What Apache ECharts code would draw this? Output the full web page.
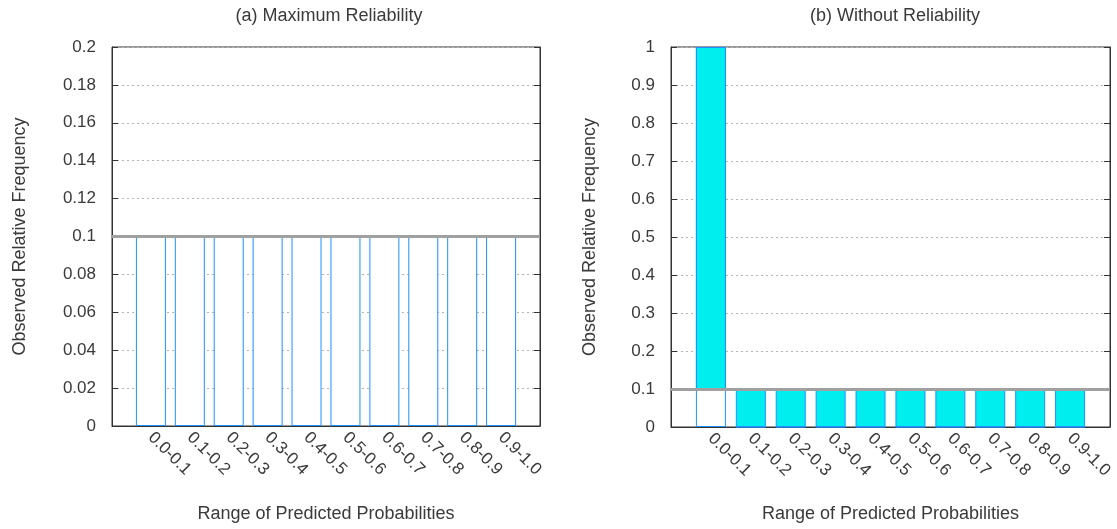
<!DOCTYPE html>
<html>
<head>
<meta charset="utf-8">
<script src="https://cdn.jsdelivr.net/npm/echarts@6/dist/echarts.min.js"></script>
<style>
html,body{margin:0;padding:0;background:#fff;}
#c{width:1117px;height:529px;}
</style>
</head>
<body>
<div id="c"></div>
<script>
// ---- data ----
const categories = ['0.0-0.1','0.1-0.2','0.2-0.3','0.3-0.4','0.4-0.5','0.5-0.6','0.6-0.7','0.7-0.8','0.8-0.9','0.9-1.0'];
const observedA = [0.1, 0.1, 0.1, 0.1, 0.1, 0.1, 0.1, 0.1, 0.1, 0.1];
const observedB = [1.0, 0, 0, 0, 0, 0, 0, 0, 0, 0];
const expectedLevel = 0.1;
const titleA = '(a) Maximum Reliability';
const titleB = '(b) Without Reliability';
const yTicksA = {min: 0, max: 0.2, interval: 0.02};
const yTicksB = {min: 0, max: 1, interval: 0.1};
const xName = 'Range of Predicted Probabilities';
const yName = 'Observed Relative Frequency';

// ---- styles ----
const FONT = 'Liberation Sans';
const TXT = '#3a3a3a';
const BLUE = '#1e90ff';
const CYAN = '#00eeee';
const LINEGRAY = '#a0a0a0';

// padded category list: one empty slot on each side (gnuplot xrange -1..N)
const paddedCats = [''].concat(categories, ['']);
const pad = (arr) => ['-'].concat(arr, ['-']);

const chart = echarts.init(document.getElementById('c'), null, {renderer: 'canvas'});

function xAxis(gridIndex, nameGap) {
  return {
    type: 'category', gridIndex, data: paddedCats, boundaryGap: false,
    name: xName, nameLocation: 'middle', nameGap,
    nameTextStyle: {color: TXT, fontFamily: FONT, fontSize: 18},
    axisLine: {show: true, onZero: false, lineStyle: {color: '#333', width: 1}},
    axisTick: {show: false},
    splitLine: {show: false},
    axisLabel: {
      color: TXT, fontFamily: FONT, fontSize: 17, rotate: -45, margin: 9,
      interval: 0
    }
  };
}
function yAxis(gridIndex, t, mirror, nameGap) {
  return {
    type: 'value', gridIndex, min: t.min, max: t.max, interval: t.interval,
    position: mirror ? 'right' : 'left',
    name: mirror ? '' : yName, nameLocation: 'middle', nameGap: nameGap || 0,
    nameTextStyle: {color: TXT, fontFamily: FONT, fontSize: 18},
    axisLine: {show: true, onZero: false, lineStyle: {color: '#333', width: 1}},
    axisTick: {show: true, inside: true, length: 6, lineStyle: {color: '#333'}},
    splitLine: {show: !mirror, lineStyle: {color: '#b4b4b4', type: [2, 3], width: 1}},
    axisLabel: {show: !mirror, color: TXT, fontFamily: FONT, fontSize: 17, margin: 16}
  };
}
function seriesFor(obs, xi, yi) {
  const base = obs.map(v => Math.min(v, expectedLevel));
  const gap = obs.map(v => Math.abs(v - expectedLevel));
  return [
    {
      type: 'bar', xAxisIndex: xi, yAxisIndex: yi, barWidth: 30, barGap: '-100%',
      data: pad(obs), z: 2,
      itemStyle: {color: '#fff', borderColor: BLUE, borderWidth: 1}
    },
    {
      type: 'bar', xAxisIndex: xi, yAxisIndex: yi, barWidth: 30, barGap: '-100%',
      stack: 'g' + xi, data: pad(base), z: 3, silent: true,
      itemStyle: {color: 'rgba(0,0,0,0)', borderWidth: 0}
    },
    {
      type: 'bar', xAxisIndex: xi, yAxisIndex: yi, barWidth: 30, barGap: '-100%',
      stack: 'g' + xi, z: 4,
      data: pad(gap.map(v => v > 1e-9 ? v : '-')),
      itemStyle: {color: CYAN, borderColor: BLUE, borderWidth: 1},
      markLine: {
        silent: true, symbol: ['none', 'none'], label: {show: false},
        lineStyle: {color: LINEGRAY, width: 3, type: 'solid'},
        data: [{yAxis: expectedLevel}]
      }
    }
  ];
}

chart.setOption({
  backgroundColor: '#fff',
  animation: false,
  title: [
    {text: titleA, left: 324, top: 2, textAlign: 'center',
     textStyle: {color: TXT, fontFamily: FONT, fontSize: 18, fontWeight: 'normal'}},
    {text: titleB, left: 890, top: 2, textAlign: 'center',
     textStyle: {color: TXT, fontFamily: FONT, fontSize: 18, fontWeight: 'normal'}}
  ],
  grid: [
    {left: 112, right: 577, top: 47, bottom: 103, show: true, borderColor: '#333', borderWidth: 1, backgroundColor: 'transparent'},
    {left: 671, right: 7, top: 47, bottom: 102, show: true, borderColor: '#333', borderWidth: 1, backgroundColor: 'transparent'}
  ],
  xAxis: [xAxis(0, 79), xAxis(1, 78)],
  yAxis: [yAxis(0, yTicksA, false, 83), yAxis(0, yTicksA, true), yAxis(1, yTicksB, false, 72), yAxis(1, yTicksB, true)],
  series: [...seriesFor(observedA, 0, 0), ...seriesFor(observedB, 1, 2)]
});
</script>
</body>
</html>
